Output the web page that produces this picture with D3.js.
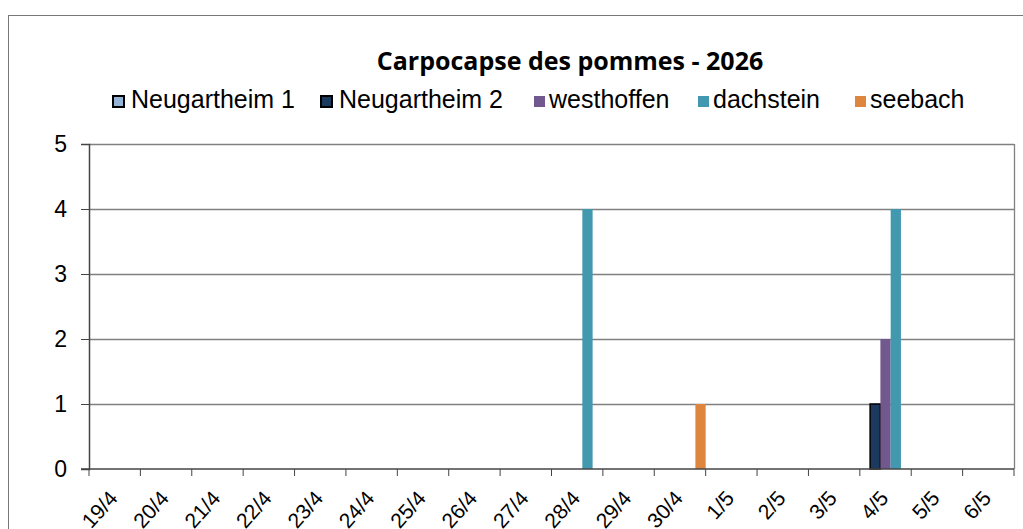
<!DOCTYPE html>
<html>
<head>
<meta charset="utf-8">
<script src="https://cdn.jsdelivr.net/npm/d3@7"></script>
<style>
  body { margin: 0; background: #fff; }
  text { font-family: "Liberation Sans", Arial, sans-serif; }
</style>
</head>
<body>
<div id="chart"></div>
<script>
// chart values
const dates = ["19/4", "20/4", "21/4", "22/4", "23/4", "24/4", "25/4", "26/4", "27/4",
  "28/4", "29/4", "30/4", "1/5", "2/5", "3/5", "4/5", "5/5", "6/5"];
const seriesNames = ["Neugartheim 1", "Neugartheim 2", "westhoffen", "dachstein", "seebach"];
const seriesColors = ["#95b3d7", "#1c3a5e", "#71588f", "#4198af", "#df863e"];
const neugartheim1 = [0, 0, 0, 0, 0, 0, 0, 0, 0, 0, 0, 0, 0, 0, 0, 0, 0, 0];
const neugartheim2 = [0, 0, 0, 0, 0, 0, 0, 0, 0, 0, 0, 0, 0, 0, 0, 1, 0, 0];
const westhoffen   = [0, 0, 0, 0, 0, 0, 0, 0, 0, 0, 0, 0, 0, 0, 0, 2, 0, 0];
const dachstein    = [0, 0, 0, 0, 0, 0, 0, 0, 0, 4, 0, 0, 0, 0, 0, 4, 0, 0];
const seebach      = [0, 0, 0, 0, 0, 0, 0, 0, 0, 0, 0, 1, 0, 0, 0, 0, 0, 0];
const yTicks = [0, 1, 2, 3, 4, 5];

const allSeries = [neugartheim1, neugartheim2, westhoffen, dachstein, seebach];

const width = 1023, height = 529;
const plot = { left: 89, right: 1014, top: 144, bottom: 469 };

const svg = d3.select("#chart").append("svg")
  .attr("width", width)
  .attr("height", height);

// outer frame (runs off the right and bottom of the picture)
svg.append("rect")
  .attr("x", 8.5).attr("y", 15.5)
  .attr("width", 1030).attr("height", 540)
  .attr("fill", "none")
  .attr("stroke", "#777")
  .attr("stroke-width", 1);

svg.append("text")
  .attr("x", 570).attr("y", 70)
  .attr("text-anchor", "middle")
  .style("font-family", "'Open Sans', sans-serif")
  .style("font-weight", "bold")
  .style("font-size", "25px")
  .text("Carpocapse des pommes - 2026");

// legend
const legendX = [112, 320, 533, 697, 854];
const legend = svg.append("g");
seriesNames.forEach((name, i) => {
  const g = legend.append("g").attr("transform", `translate(${legendX[i]},101)`);
  const outlined = i < 2;
  g.append("rect")
    .attr("x", outlined ? 1 : 1).attr("y", outlined ? -5 : -5)
    .attr("width", 11).attr("height", 11)
    .attr("fill", seriesColors[i])
    .attr("stroke", outlined ? "#000" : "none")
    .attr("stroke-width", outlined ? 2 : 0);
  g.append("text")
    .attr("x", i < 2 ? 19 : 16).attr("y", 7)
    .style("font-size", "25px")
    .text(name);
});

const x = d3.scaleBand().domain(dates).range([plot.left, plot.right]).padding(0);
const xs = d3.scaleBand().domain(seriesNames).range([0, x.bandwidth()]).padding(0);
const y = d3.scaleLinear().domain([0, 5]).range([plot.bottom, plot.top]);

// gridlines
svg.append("g").selectAll("line")
  .data(yTicks.filter(d => d > 0))
  .join("line")
  .attr("x1", plot.left).attr("x2", plot.right)
  .attr("y1", d => Math.round(y(d)) + 0.5).attr("y2", d => Math.round(y(d)) + 0.5)
  .attr("stroke", "#808080")
  .attr("stroke-width", 1.3);

// right border of plot
svg.append("line")
  .attr("x1", plot.right + 0.5).attr("x2", plot.right + 0.5)
  .attr("y1", plot.top).attr("y2", plot.bottom)
  .attr("stroke", "#808080").attr("stroke-width", 1.3);

// bars
const rows = [];
allSeries.forEach((vals, si) => {
  vals.forEach((v, di) => {
    if (v > 0) rows.push({ s: seriesNames[si], si, d: dates[di], v });
  });
});
svg.append("g").selectAll("rect")
  .data(rows)
  .join("rect")
  .attr("x", d => x(d.d) + xs(d.s))
  .attr("width", xs.bandwidth())
  .attr("y", d => y(d.v))
  .attr("height", d => y(0) - y(d.v))
  .attr("fill", d => seriesColors[d.si])
  .attr("stroke", d => d.si < 2 ? "#000" : "none")
  .attr("stroke-width", 1.5);

// y axis
const yAxis = svg.append("g")
  .attr("transform", `translate(${plot.left},0)`)
  .call(d3.axisLeft(y).tickValues(yTicks).tickSize(8).tickPadding(14).tickFormat(d3.format("d")));
yAxis.select(".domain").attr("stroke", "#444").attr("stroke-width", 1.5);
yAxis.selectAll(".tick line").attr("stroke", "#444");
yAxis.selectAll(".tick text").style("font-size", "23px").attr("fill", "#000")
  .style("font-family", "'Liberation Sans', Arial, sans-serif");

// x axis
const tickPos = dates.map(d => x(d)).concat([plot.right]);
const xAxis = svg.append("g").attr("transform", `translate(0,${plot.bottom})`);
xAxis.append("line")
  .attr("x1", plot.left - 8).attr("x2", plot.right)
  .attr("stroke", "#444").attr("stroke-width", 1.5);
xAxis.selectAll(".xt")
  .data(tickPos)
  .join("line")
  .attr("class", "xt")
  .attr("x1", d => d).attr("x2", d => d)
  .attr("y1", 0).attr("y2", 7)
  .attr("stroke", "#444");
xAxis.selectAll(".xl")
  .data(dates)
  .join("text")
  .attr("class", "xl")
  .attr("text-anchor", "end")
  .attr("transform", d => `translate(${x(d) + x.bandwidth() / 2 + 4},${30}) rotate(-48)`)
  .style("font-size", "21px")
  .text(d => d);
</script>
</body>
</html>
